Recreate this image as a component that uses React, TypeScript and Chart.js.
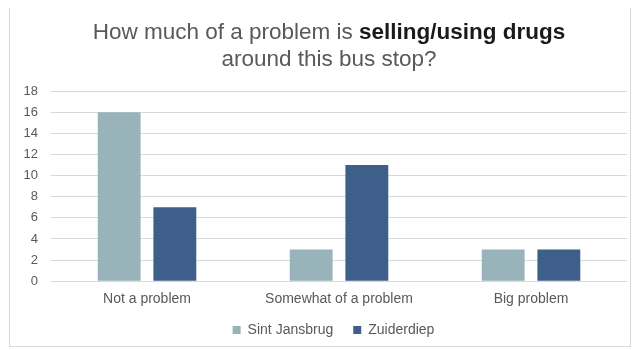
import React, { useEffect, useRef } from "react";
import { Chart, registerables } from "chart.js";

Chart.register(...registerables);

const categories = ["Not a problem", "Somewhat of a problem", "Big problem"];
const seriesNames = ["Sint Jansbrug", "Zuiderdiep"];
const sintJansbrug = [16, 3, 3];
const zuiderdiep = [7, 11, 3];
const titleLine1Normal = "How much of a problem is ";
const titleLine1Bold = "selling/using drugs";
const titleLine2 = "around this bus stop?";

const FONT = "'Liberation Sans', Arial, sans-serif";

const titlePlugin = {
  id: "mixedTitle",
  afterLayout(chart: any) {
    const lg = chart.legend;
    if (lg) {
      lg.left += 15;
      lg.right += 15;
      lg.top -= 15;
      lg.bottom -= 15;
    }
  },
  afterDraw(chart: any) {
    const ctx = chart.ctx;
    const cx = chart.width / 2 + 9;
    ctx.save();
    ctx.textBaseline = "middle";
    ctx.textAlign = "left";
    ctx.font = `22.5px ${FONT}`;
    const w1 = ctx.measureText(titleLine1Normal).width;
    ctx.font = `bold 22.5px ${FONT}`;
    const w2 = ctx.measureText(titleLine1Bold).width;
    const start = cx - (w1 + w2) / 2;
    ctx.font = `22.5px ${FONT}`;
    ctx.fillStyle = "#595959";
    ctx.fillText(titleLine1Normal, start, 25);
    ctx.font = `bold 22.5px ${FONT}`;
    ctx.fillStyle = "#1a1a1a";
    ctx.fillText(titleLine1Bold, start + w1, 25);
    ctx.font = `22.5px ${FONT}`;
    ctx.fillStyle = "#595959";
    ctx.textAlign = "center";
    ctx.fillText(titleLine2, cx, 52);
    ctx.restore();
  },
};

export default function App() {
  const ref = useRef<HTMLCanvasElement>(null);
  useEffect(() => {
    if (!ref.current) return;
    const chart = new Chart(ref.current, {
      type: "bar",
      data: {
        labels: categories,
        datasets: [
          {
            label: seriesNames[0],
            data: sintJansbrug,
            backgroundColor: "#98b3ba",
            categoryPercentage: 0.58,
            barPercentage: 0.77,
          },
          {
            label: seriesNames[1],
            data: zuiderdiep,
            backgroundColor: "#3d5f8a",
            categoryPercentage: 0.58,
            barPercentage: 0.77,
          },
        ],
      },
      options: {
        animation: false,
        responsive: false,
        devicePixelRatio: 1,
        layout: { padding: { top: 83, right: 3, left: 0, bottom: 0 } },
        plugins: {
          title: { display: false },
          tooltip: { enabled: false },
          legend: {
            position: "bottom",
            labels: {
              boxWidth: 8,
              boxHeight: 8,
              color: "#595959",
              font: { family: FONT, size: 14 },
              padding: 20,
            },
          },
        },
        scales: {
          x: {
            grid: { display: false, drawTicks: false },
            border: { display: false },
            ticks: {
              color: "#595959",
              font: { family: FONT, size: 14 },
              padding: 10,
            },
          },
          y: {
            min: 0,
            max: 18,
            grid: { color: "#d9d9d9", drawTicks: false },
            border: { display: false },
            ticks: {
              stepSize: 2,
              color: "#595959",
              font: { family: FONT, size: 13 },
              padding: 13,
            },
            afterFit(scale: any) {
              scale.width = 41;
            },
          },
        },
      },
      plugins: [titlePlugin],
    });
    return () => chart.destroy();
  }, []);
  return (
    <div
      style={{
        width: 620,
        height: 338,
        border: "1px solid #d9d9d9",
        marginLeft: 1,
        marginTop: -1,
        background: "#fff",
        overflow: "hidden",
      }}
    >
      <canvas ref={ref} width={620} height={354} style={{ display: "block" }} />
    </div>
  );
}
